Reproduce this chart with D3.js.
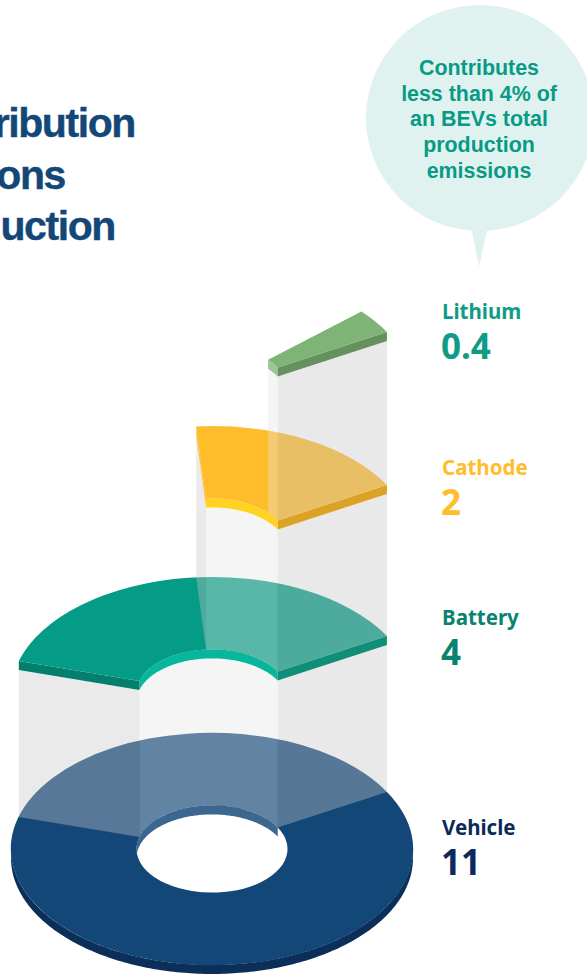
<!DOCTYPE html>
<html>
<head>
<meta charset="utf-8">
<script src="https://cdnjs.cloudflare.com/ajax/libs/d3/7.8.5/d3.min.js"></script>
<style>
  html, body { margin: 0; padding: 0; background: #fff; overflow: hidden; }
  svg { display: block; }
</style>
</head>
<body>
<div id="chart"></div>
<script>
// Data, bottom layer first
const categories = ["Vehicle", "Battery", "Cathode", "Lithium"];
const values = ["11", "4", "2", "0.4"];
// sweep of each slice, all slices end on the same angle
const sweepDegrees = [360, 134.5, 65, 12.5];
const titleLines = ["ribution", "ons", "uction"];
const noteLines = ["Contributes", "less than 4% of", "an BEVs total", "production", "emissions"];

const width = 587, height = 975;
const cx = 212, rOuter = 201, rInner = 75.5;
const tilt = 0.577, thick = 9;
const endDeg = 60.5;
const centerY = d3.scaleOrdinal(categories, [849, 693, 542, 389]);
const labelY = d3.scaleOrdinal(categories, [835, 625, 475, 319]);

const topColor = d3.scaleOrdinal(categories, ["#124778", "#049c87", "#ffbc2b", "#7eb476"]);
const innerColor = d3.scaleOrdinal(categories, ["#3a668f", "#06b79e", "#ffd31f", "#9dc497"]);
const endColor = d3.scaleOrdinal(categories, ["#124778", "#118e78", "#dba326", "#66905f"]);
const startColor = d3.scaleOrdinal(categories, ["#124778", "#057f6d", "#ffbc2b", "#7eb476"]);
const labelColor = d3.scaleOrdinal(categories, ["#0b2a5b", "#0a8270", "#ffbc2b", "#0e9c87"]);

const rad = d => d * Math.PI / 180;
const svg = d3.select("#chart").append("svg")
  .attr("width", width).attr("height", height)
  .attr("viewBox", [0, 0, width, height]);

// point on a tilted ring, angle 0 is the back of the ring
const pt = (name, r, deg, drop) => [
  cx + r * Math.sin(rad(deg)),
  centerY(name) - r * tilt * Math.cos(rad(deg)) + drop
];
const line = d3.line();
const sweepRange = (a, b) => d3.range(a, b, 1).concat([b]);

// band between the same curve at two heights
const band = (upper, upDrop, lower, lowDrop, r, a, b) => {
  const degs = sweepRange(a, b);
  const top = degs.map(d => pt(upper, r, d, upDrop));
  const bot = degs.map(d => pt(lower, r, d, lowDrop)).reverse();
  return line(top.concat(bot)) + "Z";
};
// flat radial face between two heights
const radial = (upper, upDrop, lower, lowDrop, deg) =>
  line([
    pt(upper, rOuter, deg, upDrop), pt(upper, rInner, deg, upDrop),
    pt(lower, rInner, deg, lowDrop), pt(lower, rOuter, deg, lowDrop)
  ]) + "Z";

const arc = d3.arc().innerRadius(rInner).outerRadius(rOuter);

categories.forEach((name, i) => {
  const a = endDeg - sweepDegrees[i];
  const g = svg.append("g").attr("class", "layer");

  // solid sides
  if (sweepDegrees[i] === 360) {
    g.append("path").attr("d", band(name, 0, name, thick, rOuter, -270, -90))
      .attr("fill", "#0b2f58");
  }
  g.append("path")
    .attr("d", band(name, 0, name, thick, rInner, Math.max(a, -90), Math.min(endDeg, 90)))
    .attr("fill", innerColor(name));
  if (i > 0) {
    g.append("path").attr("d", radial(name, 0, name, thick, endDeg)).attr("fill", endColor(name));
    if (a < 0) {
      g.append("path").attr("d", radial(name, 0, name, thick, a)).attr("fill", startColor(name));
    }
  }

  // top face
  g.append("path")
    .attr("transform", `translate(${cx},${centerY(name)}) scale(1,${tilt})`)
    .attr("d", arc({ startAngle: rad(a), endAngle: rad(endDeg) }))
    .attr("fill", topColor(name));

  // see-through column that drops from the next layer onto this one
  const up = categories[i + 1];
  if (!up) return;
  const upA = endDeg - sweepDegrees[i + 1];
  if (upA < 0) {
    g.append("path").attr("d", radial(up, thick, name, 0, upA))
      .attr("fill", "rgb(200,200,200)").attr("fill-opacity", 0.38);
  }
  g.append("path").attr("d", radial(up, thick, name, 0, endDeg))
    .attr("fill", "rgb(197,197,197)").attr("fill-opacity", 0.38);
  g.append("path").attr("d", band(up, thick, name, 0, rInner, upA, endDeg))
    .attr("fill", "rgb(229,229,229)").attr("fill-opacity", 0.38);
});

// Labels
const labels = svg.append("g").selectAll("g").data(categories).join("g");
labels.append("text")
  .attr("x", 442).attr("y", d => labelY(d))
  .style("font", "700 20.5px 'Noto Sans'")
  .attr("fill", d => labelColor(d))
  .text(d => d);
labels.append("text")
  .attr("x", 441).attr("y", d => labelY(d) + 39.5)
  .style("font", "700 35px 'Noto Sans'")
  .attr("fill", d => labelColor(d))
  .text((d, i) => values[i]);

// Title, cut off by the left edge of the picture
const titleEnds = [135, 65, 115];
const titleBase = [137, 189, 240];
svg.append("g").selectAll("text").data(titleLines).join("text")
  .attr("x", (d, i) => titleEnds[i]).attr("y", (d, i) => titleBase[i])
  .attr("text-anchor", "end")
  .style("font", "700 41px 'Liberation Sans'")
  .style("letter-spacing", "-1.4px")
  .attr("fill", "#124778")
  .attr("stroke", "#124778").attr("stroke-width", 0.4)
  .text(d => d);

// Speech bubble
svg.append("path")
  .attr("d", line([[471, 226], [488, 226], [479, 267]]) + "Z")
  .attr("fill", "#e0f2f0");
svg.append("ellipse")
  .attr("cx", 480).attr("cy", 118).attr("rx", 114).attr("ry", 113)
  .attr("fill", "#e0f2f0");
svg.append("g").selectAll("text").data(noteLines).join("text")
  .attr("x", 479).attr("y", (d, i) => 75 + i * 25.7)
  .attr("text-anchor", "middle")
  .style("font", "700 21.4px 'Liberation Sans'")
  .attr("fill", "#079a84")
  .text(d => d);
</script>
</body>
</html>
